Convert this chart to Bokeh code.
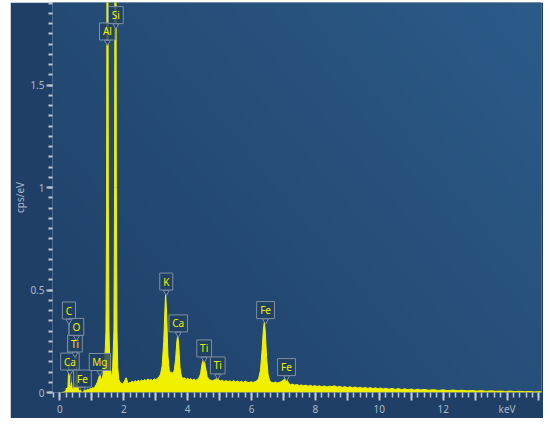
import numpy as np
from bokeh.plotting import figure
from bokeh.models import SingleIntervalTicker, Range1d
from bokeh.core.properties import value
from bokeh.embed import file_html
from bokeh.resources import INLINE

# ---------------- data ----------------
energy_kev = [
    0.05, 0.12, 0.18, 0.20, 0.22, 0.25, 0.28, 0.31, 0.34, 0.36, 0.39, 0.42, 0.45, 0.48, 0.50, 0.525,
    0.55, 0.58, 0.62, 0.66, 0.70, 0.74, 0.78, 0.82, 0.86, 0.90, 0.94, 0.98, 1.02, 1.06, 1.10, 1.14,
    1.18, 1.22, 1.25, 1.28, 1.31, 1.34, 1.37, 1.40, 1.42, 1.44, 1.46, 1.475, 1.50, 1.515, 1.535, 1.56,
    1.59, 1.62, 1.65, 1.69, 1.71, 1.725, 1.75, 1.765, 1.785, 1.81, 1.84, 1.88, 1.92, 1.96, 2.00,
    2.04, 2.07, 2.10, 2.14, 2.18, 2.20, 2.25, 2.30, 2.35, 2.40, 2.45, 2.50, 2.55, 2.60, 2.65, 2.70,
    2.75, 2.80, 2.85, 2.90, 2.95, 3.00, 3.05, 3.10, 3.15, 3.20, 3.25, 3.29, 3.31, 3.34, 3.38, 3.42,
    3.46, 3.50, 3.54, 3.58, 3.62, 3.66, 3.69, 3.72, 3.76, 3.80, 3.85, 3.90, 3.95, 4.00, 4.05, 4.10,
    4.15, 4.20, 4.25, 4.30, 4.35, 4.40, 4.45, 4.51, 4.56, 4.61, 4.66, 4.72, 4.78, 4.84, 4.90, 4.93,
    4.97, 5.02, 5.08, 5.14, 5.20, 5.26, 5.32, 5.38, 5.44, 5.50, 5.56, 5.62, 5.68, 5.74, 5.80, 5.86,
    5.92, 5.98, 6.04, 6.10, 6.16, 6.22, 6.28, 6.33, 6.37, 6.40, 6.43, 6.47, 6.52, 6.57, 6.62, 6.68,
    6.74, 6.80, 6.86, 6.92, 6.98, 7.03, 7.07, 7.11, 7.16, 7.22, 7.28, 7.35, 7.42, 7.49, 7.56, 7.63,
    7.70, 7.77, 7.84, 7.91, 7.98, 8.05, 8.12, 8.20, 8.28, 8.36, 8.44, 8.52, 8.60, 8.68, 8.76, 8.84,
    8.92, 9.00, 9.08, 9.16, 9.24, 9.32, 9.40, 9.48, 9.56, 9.64, 9.72, 9.80, 9.88, 9.96, 10.04, 10.12,
    10.20, 10.30, 10.40, 10.50, 10.60, 10.70, 10.80, 10.90, 11.00, 11.10, 11.20, 11.30, 11.40, 11.55,
    11.70, 11.85, 12.00, 12.15, 12.30, 12.45, 12.60, 12.75, 12.90, 13.05, 13.20, 13.35, 13.50, 13.65,
    13.80, 13.95, 14.10, 14.25, 14.40, 14.55, 14.70, 14.85, 15.00, 15.10,
]
cps_per_ev = [
    0.000, 0.002, 0.006, 0.022, 0.006, 0.030, 0.145, 0.035, 0.025, 0.050, 0.012, 0.018, 0.045, 0.020, 0.060, 0.125,
    0.045, 0.012, 0.008, 0.010, 0.020, 0.008, 0.012, 0.010, 0.016, 0.013, 0.020, 0.017, 0.024, 0.021, 0.030, 0.040,
    0.055, 0.075, 0.090, 0.070, 0.060, 0.080, 0.110, 0.150, 0.220, 0.300, 0.900, 2.400, 2.400, 0.900, 0.300, 0.150,
    0.100, 0.070, 0.120, 0.300, 1.000, 2.600, 2.600, 1.000, 0.300, 0.120, 0.065, 0.050, 0.045, 0.042, 0.050,
    0.062, 0.072, 0.060, 0.042, 0.050, 0.046, 0.055, 0.050, 0.058, 0.052, 0.060, 0.054, 0.061, 0.056, 0.063, 0.058,
    0.066, 0.060, 0.064, 0.058, 0.067, 0.062, 0.070, 0.075, 0.090, 0.130, 0.250, 0.420, 0.490, 0.380, 0.180, 0.110,
    0.095, 0.100, 0.090, 0.110, 0.160, 0.250, 0.280, 0.230, 0.120, 0.080, 0.068, 0.072, 0.064, 0.070, 0.062, 0.068,
    0.060, 0.066, 0.059, 0.064, 0.070, 0.090, 0.140, 0.170, 0.120, 0.078, 0.064, 0.060, 0.057, 0.062, 0.066, 0.072,
    0.062, 0.056, 0.060, 0.054, 0.058, 0.053, 0.057, 0.052, 0.058, 0.051, 0.056, 0.050, 0.055, 0.049, 0.056, 0.051,
    0.048, 0.053, 0.049, 0.052, 0.056, 0.068, 0.110, 0.210, 0.310, 0.343, 0.295, 0.170, 0.085, 0.056, 0.050, 0.047,
    0.051, 0.046, 0.049, 0.052, 0.058, 0.066, 0.072, 0.062, 0.045, 0.038, 0.041, 0.036, 0.039, 0.034, 0.037, 0.033,
    0.036, 0.031, 0.035, 0.030, 0.034, 0.029, 0.033, 0.028, 0.032, 0.027, 0.031, 0.029, 0.033, 0.026, 0.030, 0.025,
    0.029, 0.024, 0.028, 0.023, 0.027, 0.022, 0.026, 0.021, 0.025, 0.020, 0.024, 0.019, 0.023, 0.018, 0.022, 0.017,
    0.021, 0.016, 0.020, 0.015, 0.019, 0.014, 0.018, 0.013, 0.017, 0.012, 0.016, 0.012, 0.015, 0.011,
    0.014, 0.010, 0.013, 0.009, 0.012, 0.009, 0.011, 0.008, 0.010, 0.007, 0.009, 0.006, 0.008, 0.006,
    0.007, 0.005, 0.007, 0.004, 0.006, 0.004, 0.005, 0.003, 0.004, 0.003,
]

# element markers: name, line energy (keV), peak top (cps/eV), label box centre (keV, cps/eV)
marker_names = ["C", "Ca", "Ti", "O", "Fe", "Mg", "Al", "Si", "K", "Ca", "Ti", "Ti", "Fe", "Fe"]
marker_energy = [0.28, 0.36, 0.45, 0.525, 0.70, 1.25, 1.49, 1.74, 3.31, 3.69, 4.51, 4.93, 6.40, 7.07]
marker_top = [0.145, 0.050, 0.045, 0.125, 0.020, 0.090, 1.70, 1.78, 0.490, 0.280, 0.170, 0.072, 0.343, 0.072]
label_x = [0.281, 0.3125, 0.469, 0.516, 0.703, 1.25, 1.484, 1.75, 3.328, 3.703, 4.516, 4.94, 6.4375, 7.094]
label_y = [0.400, 0.151, 0.239, 0.320, 0.068, 0.149, 1.761, 1.841, 0.541, 0.337, 0.215, 0.132, 0.402, 0.124]

y_tick_labels = {0: "0", 0.5: "0.5", 1: "1", 1.5: "1.5"}
x_tick_labels = {0: "0", 2: "2", 4: "4", 6: "6", 8: "8", 10: "10", 12: "12", 14: "keV"}

# draw order (later ones on top), as in the picture
order = [0, 2, 3, 1, 4, 5, 6, 7, 8, 9, 10, 11, 12, 13]
names = [marker_names[i] for i in order]
energies = [marker_energy[i] for i in order]
tops = [marker_top[i] for i in order]
lxs = [label_x[i] for i in order]
lys = [label_y[i] for i in order]

# ---------------- layout ----------------
W, H = 533, 416
ML, MR, MT, MB = 41, 2, 0, 26
FW, FH = W - ML - MR, H - MT - MB
X0 = -0.234
X1 = X0 + FW / 32.0
Y0 = 0.0
Y1 = FH / 205.0
YPX = (Y1 - Y0) / FH

TICK_COLOR = "#b9c6d4"
LABEL_COLOR = "#a9b8c8"
YELLOW = "#f0f000"
FONT = "Noto Sans"

p = figure(width=W, height=H, output_backend="svg", toolbar_location=None,
           x_range=Range1d(X0, X1), y_range=Range1d(Y0, Y1),
           min_border_left=ML, min_border_right=MR, min_border_top=MT, min_border_bottom=MB)
p.margin = (2, 0, 0, 10)
p.border_fill_color = "#1f3f66"
p.background_fill_color = "#244c76"
p.outline_line_color = None
p.grid.visible = False

# background gradient (style only)
gh, gw = 120, 180
yy, xx = np.mgrid[0:gh, 0:gw]
t = 0.6 * xx / (gw - 1) + 0.4 * yy / (gh - 1)
c0 = np.array([31, 64, 103], dtype=float)
c1 = np.array([44, 91, 137], dtype=float)
rgb = c0 + (c1 - c0) * t[..., None]
img = np.empty((gh, gw), dtype=np.uint32)
view = img.view(dtype=np.uint8).reshape((gh, gw, 4))
view[..., 0:3] = rgb.astype(np.uint8)
view[..., 3] = 255
p.image_rgba(image=[img], x=X0, y=Y0, dw=X1 - X0, dh=Y1 - Y0)

# spectrum
p.varea(x=energy_kev, y1=[0] * len(energy_kev), y2=cps_per_ev, fill_color=YELLOW, fill_alpha=1.0)
p.line(x=energy_kev, y=cps_per_ev, line_color=YELLOW, line_width=1)

# axes
xa = p.xaxis[0]
xa.ticker = SingleIntervalTicker(interval=1, num_minor_ticks=5)
xa.major_label_overrides = {k: x_tick_labels.get(k, "") for k in range(0, 16)}
xa.axis_line_color = None
xa.major_tick_line_color = TICK_COLOR
xa.minor_tick_line_color = TICK_COLOR
xa.major_tick_line_width = 2
xa.minor_tick_line_width = 1.5
xa.major_tick_in = 0
xa.major_tick_out = 8
xa.minor_tick_in = 0
xa.minor_tick_out = 5
xa.major_label_standoff = 1
xa.major_label_text_color = LABEL_COLOR
xa.major_label_text_font = FONT
xa.major_label_text_font_size = "10px"

ya = p.yaxis[0]
ya.ticker = SingleIntervalTicker(interval=0.5, num_minor_ticks=10)
ya.major_label_overrides = y_tick_labels
ya.axis_line_color = None
ya.major_tick_line_color = TICK_COLOR
ya.minor_tick_line_color = TICK_COLOR
ya.major_tick_line_width = 2
ya.minor_tick_line_width = 2
ya.major_tick_in = 0
ya.major_tick_out = 6
ya.minor_tick_in = 0
ya.minor_tick_out = 4
ya.major_label_standoff = 2
ya.major_label_text_color = LABEL_COLOR
ya.major_label_text_font = FONT
ya.major_label_text_font_size = "10px"
ya.axis_label = "cps/eV"
ya.axis_label_text_color = LABEL_COLOR
ya.axis_label_text_font = FONT
ya.axis_label_text_font_size = "10px"
ya.axis_label_text_font_style = "normal"
ya.axis_label_standoff = 0

# element markers
BOX_H = 17
CW = {"C": 6.1, "K": 6.0, "F": 5.2, "e": 5.6, "M": 8.8, "g": 5.5, "T": 5.3, "i": 2.4,
      "A": 6.3, "l": 2.4, "S": 5.3, "a": 5.4, "O": 7.6}
widths = [7 + sum(CW.get(ch, 5.5) for ch in n) for n in names]
box_bottom = [ly - (BOX_H / 2) * YPX for ly in lys]
p.segment(x0=lxs, y0=box_bottom, x1=energies, y1=tops, line_color="#8496ab", line_width=1, line_alpha=0.85)
p.rect(x=lxs, y=lys, width=widths, height=[BOX_H] * len(names), width_units="screen", height_units="screen",
       fill_color="#20405f", fill_alpha=0.8, line_color="#7d90a6", line_width=1)
p.scatter(x=lxs, y=[b - 2.0 * YPX for b in box_bottom], marker="inverted_triangle", size=6,
          fill_color="#20405f", line_color="#7d90a6", line_width=1)
p.text(x=lxs, y=lys, text=names, text_align="center", text_baseline="middle",
       text_font=value(FONT), text_font_size="10px", text_color=YELLOW)

open("out.html", "w").write(file_html(p, INLINE))
